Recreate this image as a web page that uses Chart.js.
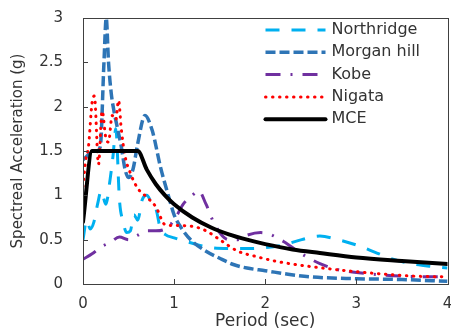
<!DOCTYPE html>
<html><head><meta charset="utf-8">
<script src="https://cdn.jsdelivr.net/npm/chart.js@4.4.0/dist/chart.umd.min.js"></script>
<style>
html,body{margin:0;padding:0;overflow:hidden;background:#fff;width:451px;height:330px}
#wrap{position:relative;width:451px;height:330px}
</style></head><body>
<div id="wrap"><canvas id="c"></canvas></div>
<script>
// ---- data ----
const seriesNames = ['Northridge', 'Morgan hill', 'Kobe', 'Nigata', 'MCE'];

const northridgeT  = [0, 0.04, 0.08, 0.12, 0.16, 0.2, 0.25, 0.3, 0.33, 0.36, 0.4, 0.44, 0.48, 0.52, 0.56, 0.6, 0.65, 0.7, 0.75, 0.8, 0.85, 0.9, 1.0, 1.2, 1.4, 1.6, 1.8, 2.0, 2.2, 2.4, 2.6, 2.8, 3.0, 3.2, 3.4, 3.6, 3.8, 4.0];
const northridgeSa = [0.5, 0.72, 0.62, 0.7, 0.9, 1.05, 0.9, 1.2, 1.45, 1.75, 0.95, 0.7, 0.58, 0.6, 0.78, 0.72, 0.95, 1.0, 0.92, 0.85, 0.62, 0.56, 0.52, 0.46, 0.41, 0.4, 0.4, 0.41, 0.44, 0.5, 0.54, 0.5, 0.44, 0.36, 0.28, 0.23, 0.2, 0.18];

const morganT  = [0, 0.05, 0.1, 0.15, 0.19, 0.23, 0.255, 0.28, 0.31, 0.34, 0.38, 0.42, 0.46, 0.5, 0.55, 0.6, 0.68, 0.76, 0.85, 0.95, 1.0, 1.1, 1.2, 1.35, 1.5, 1.65, 1.8, 2.0, 2.25, 2.5, 3.0, 3.5, 4.0];
const morganSa = [1.4, 1.45, 1.5, 1.5, 1.55, 2.5, 3.0, 2.5, 2.15, 1.95, 1.75, 1.55, 1.3, 1.2, 1.3, 1.58, 1.9, 1.73, 1.32, 0.95, 0.78, 0.6, 0.48, 0.37, 0.29, 0.22, 0.18, 0.15, 0.11, 0.08, 0.06, 0.05, 0.03];

const kobeT  = [0, 0.1, 0.2, 0.3, 0.4, 0.5, 0.6, 0.7, 0.8, 0.9, 1.0, 1.1, 1.2, 1.27, 1.35, 1.45, 1.6, 1.7, 1.8, 1.95, 2.05, 2.2, 2.4, 2.6, 2.8, 3.0, 3.3, 3.6, 4.0];
const kobeSa = [0.28, 0.34, 0.42, 0.47, 0.53, 0.5, 0.55, 0.6, 0.6, 0.62, 0.72, 0.9, 1.0, 1.05, 0.9, 0.66, 0.5, 0.5, 0.55, 0.58, 0.56, 0.48, 0.34, 0.23, 0.16, 0.13, 0.1, 0.085, 0.08];

const nigataT  = [0, 0.03, 0.06, 0.1, 0.125, 0.17, 0.21, 0.25, 0.28, 0.32, 0.36, 0.39, 0.42, 0.46, 0.52, 0.6, 0.7, 0.8, 0.9, 1.0, 1.2, 1.35, 1.5, 1.7, 1.9, 2.1, 2.4, 2.8, 3.2, 3.6, 4.0];
const nigataSa = [1.1, 1.4, 1.55, 2.05, 2.12, 1.35, 1.95, 1.65, 1.6, 1.9, 1.85, 2.07, 1.75, 1.45, 1.25, 1.08, 0.98, 0.87, 0.67, 0.66, 0.65, 0.6, 0.5, 0.37, 0.31, 0.26, 0.21, 0.16, 0.12, 0.09, 0.08];

const mceT  = [0, 0.1, 0.6, 0.7, 0.8, 0.9, 1.0, 1.2, 1.4, 1.6, 1.8, 2.0, 2.3, 2.6, 3.0, 3.5, 4.0];
const mceSa = [0.7, 1.5, 1.5, 1.29, 1.125, 1.0, 0.9, 0.75, 0.64, 0.56, 0.5, 0.45, 0.39, 0.35, 0.3, 0.26, 0.225];

const xTicks = [0, 1, 2, 3, 4];
const yTicks = [0, 0.5, 1, 1.5, 2, 2.5, 3];
const xTitle = 'Period (sec)';
const yTitle = 'Spectreal Acceleration (g)';

// ---- build ----
function pts(t, s) { return t.map((v, i) => ({ x: v, y: s[i] })); }
const FONT = "'DejaVu Sans', sans-serif";
const TEXT = '#333333';
const AXIS = '#404040';

const styles = [
  { color: '#00B0F0', width: 3, dash: [14, 12], cap: 'butt', order: 5 },
  { color: '#2E75B6', width: 3.5, dash: [10, 4], cap: 'butt', order: 4 },
  { color: '#7030A0', width: 3, dash: [15, 10, 2, 10], cap: 'butt', order: 3 },
  { color: '#FF0000', width: 3, dash: [0.5, 6.5], cap: 'round', order: 2 },
  { color: '#000000', width: 4, dash: [], cap: 'round', order: 1 }
];
const seriesData = [
  pts(northridgeT, northridgeSa),
  pts(morganT, morganSa),
  pts(kobeT, kobeSa),
  pts(nigataT, nigataSa),
  pts(mceT, mceSa)
];

const datasets = seriesNames.map((n, i) => ({
  label: n,
  data: seriesData[i],
  borderColor: styles[i].color,
  backgroundColor: styles[i].color,
  borderWidth: styles[i].width,
  borderDash: styles[i].dash,
  borderCapStyle: styles[i].cap,
  borderJoinStyle: 'round',
  pointRadius: 0,
  fill: false,
  cubicInterpolationMode: 'monotone',
  order: styles[i].order
}));

const framePlugin = {
  id: 'frame',
  afterDatasetsDraw(chart) {
    const { ctx, chartArea: a, scales } = chart;
    ctx.save();
    ctx.strokeStyle = AXIS;
    ctx.lineWidth = 1;
    ctx.setLineDash([]);
    ctx.strokeRect(Math.round(a.left) + 0.5, Math.round(a.top) + 0.5, Math.round(a.right - a.left), Math.round(a.bottom - a.top));
    ctx.beginPath();
    yTicks.forEach(v => {
      const y = Math.round(scales.y.getPixelForValue(v)) + 0.5;
      ctx.moveTo(a.left, y); ctx.lineTo(a.left + 5, y);
    });
    xTicks.forEach(v => {
      const x = Math.round(scales.x.getPixelForValue(v)) + 0.5;
      ctx.moveTo(x, a.bottom); ctx.lineTo(x, a.bottom - 5);
    });
    ctx.stroke();
    ctx.restore();
  },
  afterDraw(chart) {
    const { ctx, chartArea: a } = chart;
    ctx.save();
    ctx.font = '16px ' + FONT;
    ctx.textBaseline = 'middle';
    ctx.textAlign = 'left';
    chart.data.datasets.forEach((ds, i) => {
      const y = a.top + 12 + i * 22.3;
      const x0 = a.right - 182, x1 = a.right - 122;
      ctx.beginPath();
      ctx.strokeStyle = ds.borderColor;
      ctx.lineWidth = ds.borderWidth;
      ctx.setLineDash(ds.borderDash);
      ctx.lineCap = ds.borderCapStyle;
      ctx.moveTo(x0, y); ctx.lineTo(x1, y);
      ctx.stroke();
      ctx.fillStyle = TEXT;
      ctx.fillText(ds.label, a.right - 116, y);
    });
    ctx.restore();
  }
};

const fmt = v => String(v);

new Chart(document.getElementById('c'), {
  type: 'line',
  data: { datasets },
  plugins: [framePlugin],
  options: {
    responsive: true,
    maintainAspectRatio: false,
    animation: false,
    layout: { padding: { top: 18, left: 0, right: 3.5, bottom: 0 } },
    plugins: { legend: { display: false }, tooltip: { enabled: false } },
    scales: {
      x: {
        type: 'linear', min: 0, max: 4,
        afterBuildTicks: s => { s.ticks = xTicks.map(v => ({ value: v })); },
        afterFit: s => { s.height = 46; s.paddingLeft = 0; s.paddingRight = 0; },
        grid: { display: false, drawTicks: false },
        border: { display: false },
        ticks: { padding: 13, color: TEXT, callback: fmt, font: { family: FONT, size: 15, lineHeight: 1 } },
        title: { display: true, text: xTitle, color: TEXT, padding: { top: 1, bottom: 0 }, font: { family: FONT, size: 17, lineHeight: 1 } }
      },
      y: {
        type: 'linear', min: 0, max: 3,
        afterBuildTicks: s => { s.ticks = yTicks.map(v => ({ value: v })); },
        afterFit: s => { s.width = 83; s.paddingTop = 0; s.paddingBottom = 0; },
        grid: { display: false, drawTicks: false },
        border: { display: false },
        ticks: { padding: 20, color: TEXT, callback: fmt, font: { family: FONT, size: 15, lineHeight: 1 } },
        title: { display: true, text: yTitle, color: TEXT, padding: { top: 9, bottom: 12 }, font: { family: FONT, size: 15, lineHeight: 1.2 } }
      }
    }
  }
});
</script>
</body></html>
